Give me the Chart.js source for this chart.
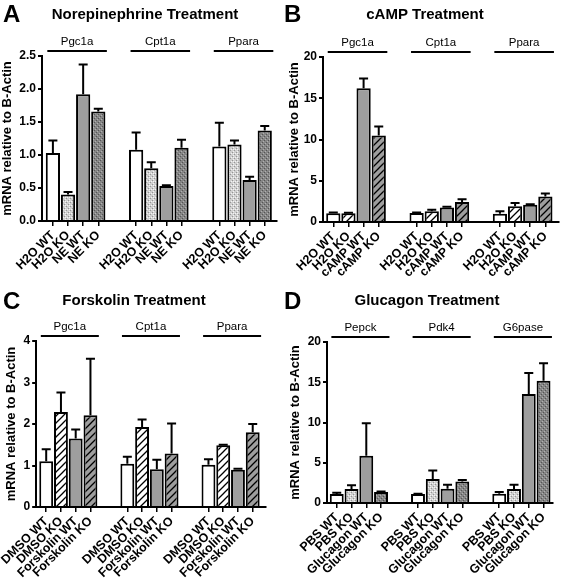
<!DOCTYPE html>
<html>
<head>
<meta charset="utf-8">
<script src="https://cdn.jsdelivr.net/npm/chart.js@4.4.1/dist/chart.umd.min.js"></script>
<style>
  body { margin: 0; background: #fff; }
  canvas { position: absolute; }
</style>
</head>
<body>
<canvas id="chartA" width="281" height="290" style="left:0;top:0"></canvas>
<canvas id="chartB" width="281" height="290" style="left:281px;top:0"></canvas>
<canvas id="chartC" width="281" height="296" style="left:0;top:290px"></canvas>
<canvas id="chartD" width="281" height="296" style="left:281px;top:290px"></canvas>
<script>
var genesTop = ["Pgc1a", "Cpt1a", "Ppara"];
var genesD = ["Pepck", "Pdk4", "G6pase"];

var groupsA = ["H2O WT", "H2O KO", "NE WT", "NE KO"];
var groupsB = ["H2O WT", "H2O KO", "cAMP WT", "cAMP KO"];
var groupsC = ["DMSO WT", "DMSO KO", "Forskolin WT", "Forskolin KO"];
var groupsD = ["PBS WT", "PBS KO", "Glucagon WT", "Glucagon KO"];

// mean and upper error (SEM), 4 bars per gene
var meanA = [1.03, 0.40, 1.92, 1.66, 1.08, 0.80, 0.53, 1.11, 1.13, 1.16, 0.62, 1.37];
var semA = [0.19, 0.04, 0.45, 0.04, 0.26, 0.09, 0.01, 0.12, 0.36, 0.06, 0.05, 0.07];

var meanB = [1.07, 1.07, 16.2, 10.47, 1.1, 1.3, 1.75, 2.43, 1.0, 1.9, 2.1, 3.1];
var semB = [0.07, 0.05, 1.2, 1.1, 0.05, 0.2, 0.1, 0.32, 0.3, 0.4, 0.05, 0.35];

var meanC = [1.10, 2.29, 1.65, 2.21, 1.04, 1.93, 0.91, 1.29, 1.02, 1.49, 0.90, 1.80];
var semC = [0.29, 0.47, 0.22, 1.36, 0.17, 0.18, 0.23, 0.72, 0.13, 0.01, 0.02, 0.20];

var meanD = [1.11, 1.73, 5.86, 1.36, 1.11, 2.97, 1.77, 2.68, 1.15, 1.73, 13.53, 15.18];
var semD = [0.17, 0.46, 4.04, 0.08, 0.04, 1.07, 0.5, 0.17, 0.21, 0.54, 2.63, 2.18];

var FONT = "'Liberation Sans', Arial, Helvetica, sans-serif";

function tile(size, draw) {
  var c = document.createElement("canvas");
  c.width = size; c.height = size;
  var g = c.getContext("2d");
  draw(g, size);
  return document.createElement("canvas").getContext("2d").createPattern(c, "repeat");
}

function hatchTile(bg) {
  return tile(7, function (g, s) {
    g.fillStyle = bg; g.fillRect(0, 0, s, s);
    g.strokeStyle = "#000"; g.lineWidth = 1.3;
    g.beginPath();
    g.moveTo(-1, s + 1); g.lineTo(s + 1, -1);
    g.moveTo(-1, 1); g.lineTo(1, -1);
    g.moveTo(s - 1, s + 1); g.lineTo(s + 1, s - 1);
    g.stroke();
  });
}

var fills = {
  white: "#ffffff",
  gray: "#9e9e9e",
  dots: tile(4, function (g) {
    g.fillStyle = "#cfcfcf"; g.fillRect(0, 0, 4, 4);
    g.fillStyle = "#959595"; g.fillRect(0, 0, 1, 1); g.fillRect(2, 2, 1, 1);
    g.fillStyle = "#f4f4f4"; g.fillRect(1, 3, 1, 1); g.fillRect(3, 1, 1, 1); g.fillRect(1, 1, 1, 1);
  }),
  darkdots: tile(4, function (g) {
    g.fillStyle = "#858585"; g.fillRect(0, 0, 4, 4);
    g.fillStyle = "#555555"; g.fillRect(0, 0, 1, 1); g.fillRect(2, 2, 1, 1);
    g.fillStyle = "#b0b0b0"; g.fillRect(1, 3, 1, 1); g.fillRect(3, 1, 1, 1);
  }),
  hatch: hatchTile("#ffffff"),
  grayhatch: hatchTile("#9e9e9e")
};

var panels = [
  { id: "chartA", letter: "A", title: "Norepinephrine Treatment", genes: genesTop, groups: groupsA,
    mean: meanA, sem: semA, yMax: 2.5, yStep: 0.5, dec: 1,
    kinds: ["white", "dots", "gray", "darkdots"],
    top: 56, xh: 69, yw: 42, right: 4, xMin: -0.72, xMax: 14.81, titlePad: 0,
    titleX: 145, titleY: 15, letterY: 15, bracketY: 51 },
  { id: "chartB", letter: "B", title: "cAMP Treatment", genes: genesTop, groups: groupsB,
    mean: meanB, sem: semB, yMax: 20, yStep: 5, dec: 0,
    kinds: ["white", "hatch", "gray", "grayhatch"],
    top: 57, xh: 68, yw: 42, right: 3, xMin: -0.68, xMax: 14.9, titlePad: 6,
    titleX: 144, titleY: 15, letterY: 15, bracketY: 52 },
  { id: "chartC", letter: "C", title: "Forskolin Treatment", genes: genesTop, groups: groupsC,
    mean: meanC, sem: semC, yMax: 4, yStep: 1, dec: 0,
    kinds: ["white", "hatch", "gray", "grayhatch"],
    top: 51, xh: 79, yw: 34, right: 15, xMin: -0.68, xMax: 14.9, titlePad: 1,
    titleX: 134, titleY: 11, letterY: 12, bracketY: 46 },
  { id: "chartD", letter: "D", title: "Glucagon Treatment", genes: genesD, groups: groupsD,
    mean: meanD, sem: semD, yMax: 20, yStep: 5, dec: 0,
    kinds: ["white", "dots", "gray", "darkdots"],
    top: 52, xh: 83, yw: 46, right: 9, xMin: -0.66, xMax: 14.64, titlePad: 7,
    titleX: 146, titleY: 11, letterY: 12, bracketY: 47 }
];

var decor = {
  id: "decor",
  afterDatasetsDraw: function (chart) {
    var p = chart.config.options.panel;
    var ctx = chart.ctx;
    var ys = chart.scales.y;
    var bars = chart.getDatasetMeta(0).data;
    ctx.save();
    ctx.strokeStyle = "#000";
    ctx.lineWidth = 2;
    bars.forEach(function (bar, i) {
      var top = ys.getPixelForValue(p.mean[i] + p.sem[i]);
      ctx.beginPath();
      ctx.moveTo(bar.x, bar.y);
      ctx.lineTo(bar.x, top);
      ctx.moveTo(bar.x - 4.5, top);
      ctx.lineTo(bar.x + 4.5, top);
      ctx.stroke();
    });
    ctx.restore();
  },
  afterDraw: function (chart) {
    var p = chart.config.options.panel;
    var ctx = chart.ctx;
    var xs = chart.scales.x;
    ctx.save();
    ctx.fillStyle = "#000";
    ctx.textBaseline = "middle";
    ctx.textAlign = "left";
    ctx.font = "bold 24px " + FONT;
    ctx.fillText(p.letter, 3, p.letterY);
    ctx.textAlign = "center";
    ctx.font = "bold 15px " + FONT;
    ctx.fillText(p.title, p.titleX, p.titleY);
    ctx.font = "11.5px " + FONT;
    ctx.strokeStyle = "#000";
    ctx.lineWidth = 2;
    p.genes.forEach(function (name, g) {
      var x1 = xs.getPixelForValue(g * 5.5 - 0.5) + 2;
      var x2 = xs.getPixelForValue(g * 5.5 + 3.5) + 1;
      ctx.beginPath();
      ctx.moveTo(x1, p.bracketY);
      ctx.lineTo(x2, p.bracketY);
      ctx.stroke();
      ctx.fillText(name, (x1 + x2) / 2, p.bracketY - 9);
    });
    ctx.restore();
  }
};

function makePanel(p) {
  var xs = p.mean.map(function (v, i) { return Math.floor(i / 4) * 5.5 + i % 4; });
  new Chart(p.id, {
    type: "bar",
    data: {
      datasets: [{
        data: p.mean.map(function (v, i) { return { x: xs[i], y: v }; }),
        backgroundColor: p.mean.map(function (v, i) { return fills[p.kinds[i % 4]]; }),
        borderColor: "#000",
        borderWidth: 2,
        barPercentage: 0.94,
        categoryPercentage: 1
      }]
    },
    options: {
      panel: p,
      responsive: false,
      animation: false,
      devicePixelRatio: 1,
      layout: { padding: { top: p.top, right: p.right, left: 0, bottom: 0 } },
      plugins: { legend: { display: false }, tooltip: { enabled: false } },
      scales: {
        x: {
          type: "linear",
          min: p.xMin,
          max: p.xMax,
          offset: false,
          afterBuildTicks: function (axis) { axis.ticks = xs.map(function (v) { return { value: v }; }); },
          afterFit: function (axis) { axis.height = p.xh; },
          ticks: {
            autoSkip: false, minRotation: 45, maxRotation: 45, padding: 2,
            color: "#000", font: { family: FONT, size: 12.5, weight: "bold" },
            callback: function (v) { var i = xs.indexOf(v); return i < 0 ? "" : p.groups[i % 4]; }
          },
          grid: { offset: false, drawOnChartArea: false, tickLength: 5, color: "#000", lineWidth: 1.5 },
          border: { color: "#000", width: 2 }
        },
        y: {
          min: 0,
          max: p.yMax,
          afterFit: function (axis) { axis.width = p.yw; },
          ticks: {
            stepSize: p.yStep, padding: 2, color: "#000",
            font: { family: FONT, size: 12, weight: "bold" },
            callback: function (v) { return v.toFixed(p.dec); }
          },
          title: {
            display: true, text: "mRNA relative to B-Actin", color: "#000",
            padding: { top: p.titlePad, bottom: 0 },
            font: { family: FONT, size: 13, weight: "bold" }
          },
          grid: { drawOnChartArea: false, tickLength: 4, color: "#000", lineWidth: 2 },
          border: { color: "#000", width: 2 }
        }
      }
    },
    plugins: [decor]
  });
}

panels.forEach(makePanel);
</script>
</body>
</html>
